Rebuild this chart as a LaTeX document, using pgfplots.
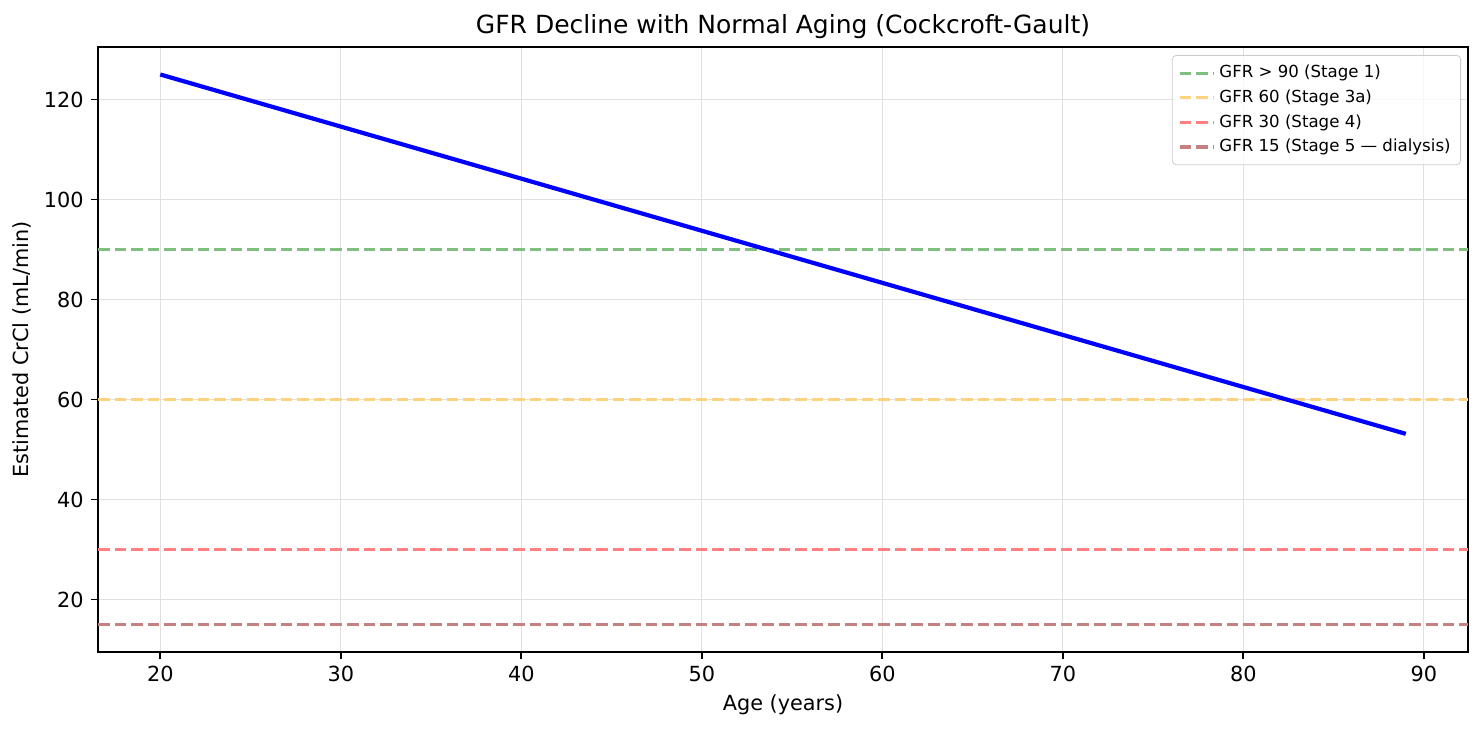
\documentclass[border=0pt]{standalone}
\usepackage{pgfplots}
\pgfplotsset{compat=1.18}
\usepackage{fontspec}
\setmainfont{DejaVu Sans}

\definecolor{gline}{HTML}{80BF80}
\definecolor{oline}{HTML}{FFD280}
\definecolor{rline}{HTML}{FF8080}
\definecolor{dline}{HTML}{C58080}

\begin{document}
\begin{tikzpicture}
\begin{axis}[
  name=ax,
  scale only axis,
  width=685pt, height=302.5pt,
  xmin=16.55, xmax=92.45,
  ymin=9.5, ymax=130.5,
  xtick={20,30,...,90},
  ytick={20,40,...,120},
  xtick pos=bottom, ytick pos=left,
  tick align=outside,
  major tick length=3.65pt,
  tick style={black, line width=0.83pt},
  axis line style={line width=0.83pt},
  grid=major,
  major grid style={line width=0.5pt, black!12},
  font=\fontsize{10.4pt}{12pt}\selectfont,
  /pgf/number format/assume math mode=true,
  title={GFR Decline with Normal Aging (Cockcroft-Gault)},
  title style={font=\fontsize{12.5pt}{15pt}\selectfont, at={(axis description cs:0.5,1.0231)}, anchor=base, yshift=0pt},
  every axis title shift=0pt,
  xlabel={Age (years)},
  xlabel style={at={(axis description cs:0.5,-0.0975)}, anchor=base},
  ylabel={Estimated CrCl (mL/min)},
  ylabel style={at={(axis description cs:-0.0504,0.5)}, anchor=base},
  legend style={at={(1,1)}, anchor=north east, xshift=-3.5pt, yshift=-4pt,
    font=\fontsize{8.3pt}{10pt}\selectfont, draw=black!20, rounded corners=2pt,
    fill=white, fill opacity=0.8, text opacity=1, row sep=0.5pt,
    inner xsep=3pt, inner ysep=3pt},
  legend cell align=left,
  legend image code/.code={\draw[#1] (0pt,0pt) -- (17pt,0pt);},
]
\addplot[gline, line width=1.56pt, dash pattern=on 5.8pt off 2.5pt] coordinates {(16.55,90) (92.45,90)};
\addlegendentry{GFR > 90 (Stage 1)}
\addplot[oline, line width=1.56pt, dash pattern=on 5.8pt off 2.5pt] coordinates {(16.55,60) (92.45,60)};
\addlegendentry{GFR 60 (Stage 3a)}
\addplot[rline, line width=1.56pt, dash pattern=on 5.8pt off 2.5pt] coordinates {(16.55,30) (92.45,30)};
\addlegendentry{GFR 30 (Stage 4)}
\addplot[dline, line width=1.56pt, dash pattern=on 5.8pt off 2.5pt] coordinates {(16.55,15) (92.45,15)};
\addlegendentry{GFR 15 (Stage 5 — dialysis)}
\addplot[blue, line width=2.1pt, forget plot] coordinates {
  (20,125) (30,114.58) (40,104.17) (50,93.75) (60,83.33) (70,72.92) (80,62.50) (89,53.13)
};
\end{axis}
\pgfresetboundingbox
\path ([shift={(-49pt,-39.5pt)}]ax.south west) rectangle ([shift={(8pt,23.5pt)}]ax.north east);
\end{tikzpicture}
\end{document}
